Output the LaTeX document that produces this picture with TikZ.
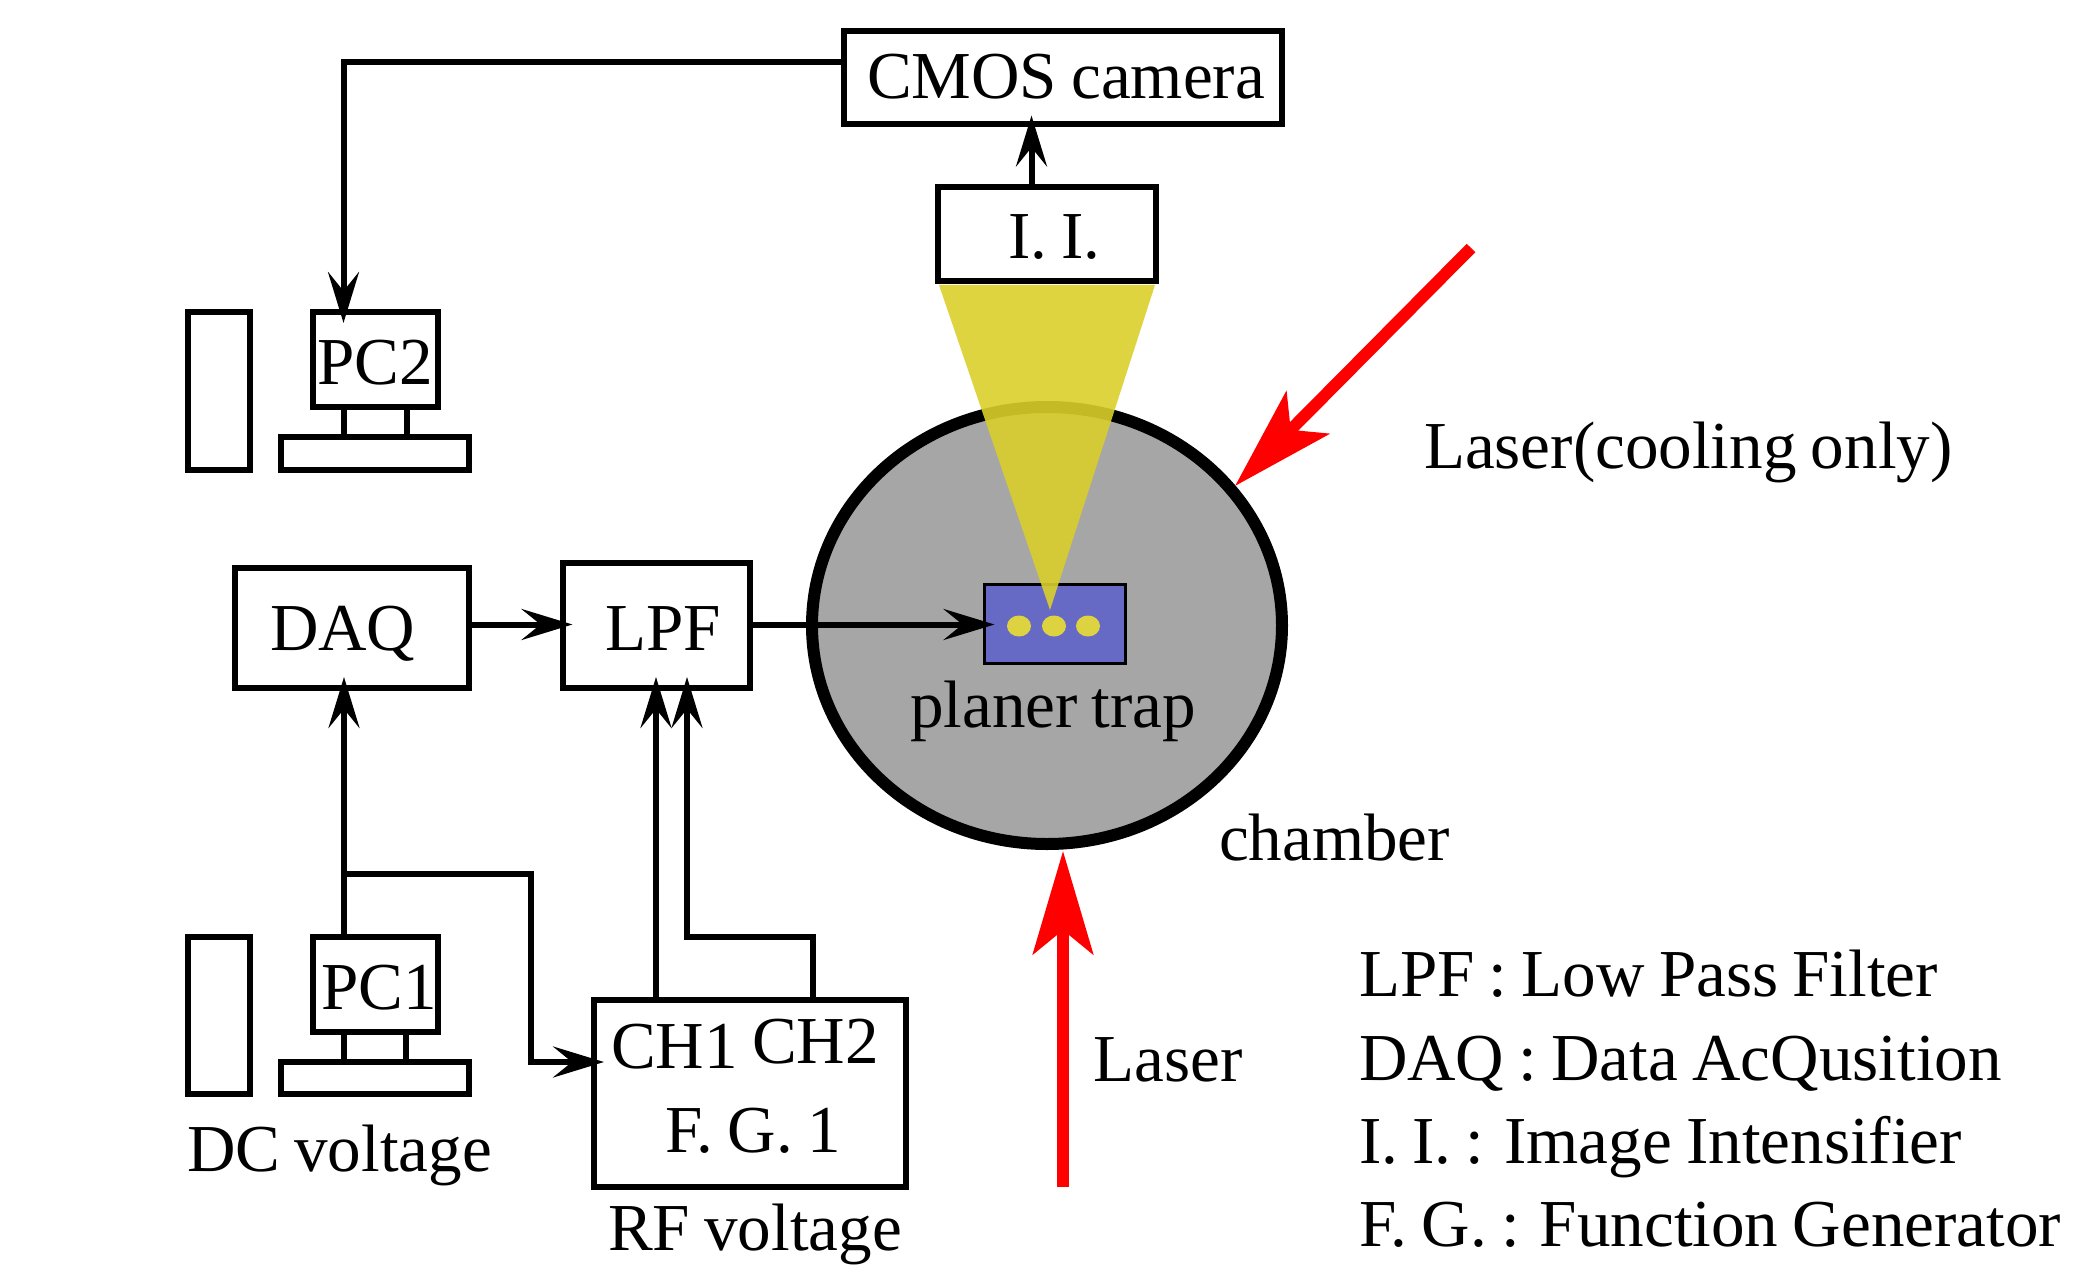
\documentclass[tikz,border=0pt]{standalone}
\usepackage{fontspec}
\setmainfont[WordSpace=0.85]{Liberation Serif}
\usetikzlibrary{arrows.meta,shapes.geometric}
\definecolor{chambergray}{HTML}{A6A6A6}
\definecolor{trapblue}{HTML}{666AC4}
\definecolor{beamyellow}{HTML}{DACF2B}
\definecolor{ionyellow}{HTML}{DDD340}
\tikzset{
  boxst/.style={draw=black,line width=6pt,rectangle,fill=white,inner sep=0pt,outer sep=0pt},
  lab/.style={anchor=base west,inner sep=0pt,outer sep=0pt,font=\fontsize{67.1}{70}\selectfont},
  conn/.style={draw=black,line width=6pt,miter limit=10},
  arr/.style={conn,-{Stealth[length=51pt,width=31pt,inset=19pt]}},
  laserarr/.style={draw=red,line width=12pt,-{Stealth[length=103pt,width=60pt,inset=24pt]}},
}
\newcommand{\bx}[5]{\node[boxst,minimum width={#4-#2},minimum height={#5-#3}] (#1) at ({(#2+#4)/2},{(#3+#5)/2}) {};}
\begin{document}
\begin{tikzpicture}[x=1pt,y=-1pt]
\useasboundingbox (0,0) rectangle (2094,1281);
% chamber
\node[ellipse,draw=black,fill=chambergray,line width=12pt,inner sep=0pt,outer sep=0pt,minimum width=470pt,minimum height=437pt] (chamber) at (1047,625.5) {};
% trap
\node[draw=black,line width=2.5pt,fill=trapblue,rectangle,inner sep=0pt,outer sep=0pt,minimum width=141pt,minimum height=79pt] (trapfill) at (1055,624) {};
\foreach \n/\xx in {a/1019,b/1054,c/1088}
  \node[ellipse,fill=ionyellow,inner sep=0pt,minimum width=24pt,minimum height=21pt] (ion\n) at (\xx,626) {};
% boxes
\bx{cmos}{844}{31}{1282}{124.5}
\bx{ii}{938}{187}{1156}{281.5}
\bx{pctwo}{313}{312}{438}{407}
\bx{kbtwo}{281}{437}{469}{469.5}
\bx{towertwo}{187.5}{312}{250}{469.5}
\bx{daq}{234.5}{568}{469}{688}
\bx{lpf}{562.5}{562.5}{750}{688}
\bx{pcone}{312.5}{937}{438}{1031.5}
\bx{kbone}{281}{1062}{469}{1094}
\bx{towerone}{187.5}{937}{250}{1094}
\bx{fg}{594}{999.5}{906}{1187}
% beam
\coordinate (beamtip) at (1050,610);
\fill[beamyellow,opacity=0.9] (939,285) -- (1155,285) -- (beamtip) -- cycle;
% monitor stands
\draw[conn] (344,0 |- pctwo.south) -- (344,0 |- kbtwo.north);
\draw[conn] (406.5,0 |- pctwo.south) -- (406.5,0 |- kbtwo.north);
\draw[conn] (344,0 |- pcone.south) -- (344,0 |- kbone.north);
\draw[conn] (405.5,0 |- pcone.south) -- (405.5,0 |- kbone.north);
% connectors
\draw[arr,shorten >=-9pt] (1031.5,0 |- ii.north) -- (1031.5,0 |- cmos.south);
\draw[arr,shorten >=-11pt] (cmos.west |- 0,62.5) -| (343.5,0 |- pctwo.north);
\draw[arr,shorten >=-10pt] (daq.east |- 0,624.5) -- (lpf.west |- 0,624.5);
\draw[arr,shorten >=-10pt] (lpf.east |- 0,624.5) -- (trapfill.west |- 0,624.5);
\draw[arr,shorten >=-11pt] (344,0 |- pcone.north) -- (344,0 |- daq.south);
\draw[arr,shorten >=-10pt] (344,874) -- (531,874) -- (531,1062) -- (fg.west |- 0,1062);
\draw[arr,shorten >=-11pt] (656,0 |- fg.north) -- (656,0 |- lpf.south);
\draw[arr,shorten >=-11pt] (813,0 |- fg.north) -- (813,937) -- (687,937) -- (687,0 |- lpf.south);
% lasers
\coordinate (laseronestart) at (1063,1187);
\coordinate (lasertwostart) at (1471,248);
\coordinate (lasertwotip) at (1235,486);
\draw[laserarr,shorten >=7pt] (laseronestart) -- (1063,0 |- chamber.south);
\draw[laserarr] (lasertwostart) -- (lasertwotip);
% texts
\node[lab] (tcmos) at (867,99) {CMOS camera};
\node[lab] (tii) at (1008,259) {I. I.};
\node[lab] (tpctwo) at (317,384.5) {PC2};
\node[lab] (tdaq) at (270,650) {DAQ};
\node[lab] (tlpf) at (605,650) {LPF};
\node[lab] (tpcone) at (321,1009) {PC1};
\node[lab] (tchone) at (611,1068) {CH1};
\node[lab] (tchtwo) at (752,1063) {CH2};
\node[lab] (tfg) at (665,1152) {F. G. 1};
\node[lab] (tdc) at (187,1171) {DC voltage};
\node[lab] (trf) at (608,1250) {RF voltage};
\node[lab] (tplaner) at (910,727) {planer trap};
\node[lab] (tchamber) at (1219,860) {chamber};
\node[lab] (tcool) at (1424,468) {Laser(cooling only)};
\node[lab] (tlaser) at (1093.5,1081) {Laser};
\node[lab] (tl1) at (1359,996.5) {LPF : Low Pass Filter};
\node[lab] (tl2) at (1359,1080.5) {DAQ : Data AcQusition};
\node[lab] (tl3) at (1359,1163.5) {I. I. : Image Intensifier};
\node[lab] (tl4) at (1359,1246) {F. G. : Function Generator};
\end{tikzpicture}
\end{document}
